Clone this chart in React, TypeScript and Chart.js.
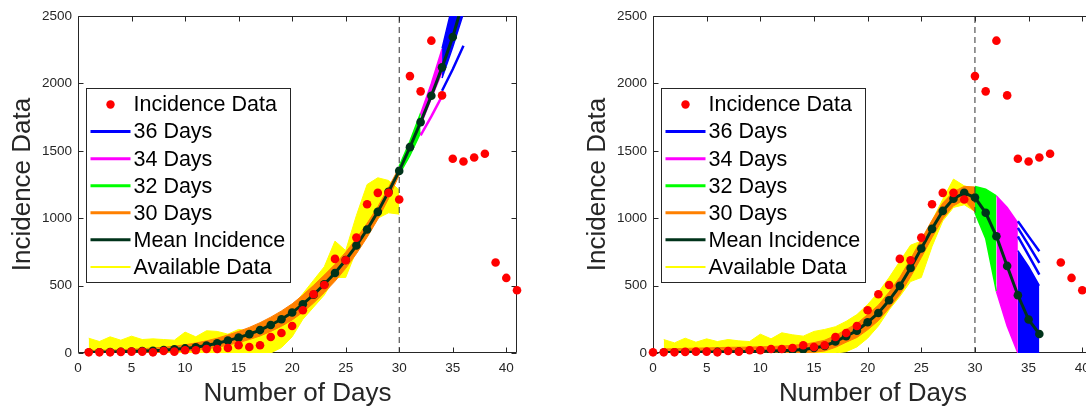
import React, { useEffect, useRef } from "react";
import { Chart, registerables } from "chart.js";
Chart.register(...registerables);

const FONT = "'Liberation Sans', Arial, Helvetica, sans-serif";

// ---- ticks ----
const xTicks = [0, 5, 10, 15, 20, 25, 30, 35, 40];
const yTicks = [0, 500, 1000, 1500, 2000, 2500];

// ---- incidence data (same series, right panel shifted one day earlier) ----
const incidence = [5, 5, 5, 8, 10, 10, 5, 15, 10, 20, 20, 30, 30, 37, 57, 45, 57, 119, 148, 200, 317, 436, 505, 698, 688, 856, 1104, 1188, 1188, 1139, 2054, 1941, 2317, 1911, 1441, 1421, 1450, 1478, 671, 557, 465];
const incidenceStartLeft = 1;
const incidenceStartRight = 0;

// ---- day starts of the fitted pieces ----
const fitStart = 1; // available data, 30 days fit, mean
const greenStart = 30;
const magentaStart = 32;
const blueStart = 34;

// ---- LEFT panel ----
const yellowUpperL = [110, 85, 120, 95, 125, 100, 105, 100, 95, 155, 120, 165, 160, 140, 175, 165, 185, 220, 265, 340, 440, 540, 640, 830, 760, 1020, 1250, 1300, 1280, 1210];
const yellowLowerL = [0, 0, 0, 0, 0, 0, 0, 0, 0, 0, 0, 0, 0, 0, 0, 0, 0, 0, 40, 120, 250, 340, 430, 560, 560, 760, 880, 1000, 1040, 1030];
const orangeUpperL = [18, 20, 22, 25, 28, 32, 37, 43, 51, 61, 74, 90, 110, 134, 160, 190, 225, 266, 312, 365, 430, 502, 578, 658, 748, 850, 962, 1085, 1228, 1378];
const orangeLowerL = [0, 0, 0, 0, 0, 0, 2, 5, 9, 14, 20, 30, 42, 58, 78, 100, 126, 160, 198, 245, 303, 370, 448, 532, 628, 736, 858, 992, 1145, 1320];
const greenUpperL = [1385, 1570, 1780];
const greenLowerL = [1325, 1465, 1635];
const magentaUpperL = [1775, 2000, 2255];
const magentaLowerL = [1690, 1890, 2085];
const magentaExtraL = [[1615, 1755, 1905]];
const blueUpperL = [2260, 2590, 2940];
const blueLowerL = [2040, 2270, 2520];
const blueExtraL = [[1945, 2105, 2280]];
const meanL = [4, 5, 7, 9, 11, 14, 17, 21, 27, 34, 43, 56, 72, 92, 114, 140, 170, 208, 250, 300, 362, 432, 510, 594, 690, 797, 916, 1047, 1195, 1351, 1527, 1713, 1908, 2119, 2344, 2620];

// ---- RIGHT panel ----
const yellowUpperR = [100, 75, 110, 80, 105, 85, 100, 90, 85, 140, 105, 150, 135, 125, 160, 175, 195, 235, 285, 360, 450, 560, 680, 800, 830, 980, 1140, 1290, 1240, 1220];
const yellowLowerR = [20, 15, 20, 15, 18, 15, 14, 12, 10, 10, 8, 5, 0, 0, 0, 0, 0, 10, 45, 110, 200, 320, 420, 530, 560, 790, 980, 1080, 1100, 1050];
const orangeUpperR = [30, 32, 34, 36, 38, 40, 42, 43, 44, 46, 48, 52, 57, 64, 77, 95, 130, 175, 218, 285, 355, 452, 562, 697, 842, 985, 1113, 1196, 1236, 1232];
const orangeLowerR = [0, 0, 0, 0, 0, 0, 0, 0, 0, 0, 0, 0, 0, 0, 5, 15, 42, 80, 115, 172, 240, 332, 435, 565, 708, 856, 995, 1092, 1135, 1045];
const greenUpperR = [1235, 1215, 1165];
const greenLowerR = [1040, 850, 458];
const magentaUpperR = [1165, 1080, 965];
const magentaLowerR = [458, 200, 0];
const magentaExtraR: number[][] = [];
const blueUpperR = [760, 640, 500];
const blueLowerR = [0, 0, 0];
const blueExtraR = [[978, 865, 755], [928, 800, 668], [866, 725, 582]];
const meanR = [3, 4, 5, 6, 7, 8, 9, 10, 11, 12, 14, 17, 21, 26, 37, 52, 85, 125, 165, 228, 297, 391, 498, 631, 775, 921, 1054, 1144, 1188, 1153, 1040, 866, 646, 428, 248, 141];

const forecastDay = 30;

// ---- colours / legend ----
const RED = "#ff0000";
const BLUE = "#0000ff";
const MAGENTA = "#ff00ff";
const GREEN = "#00ff00";
const ORANGE = "#ff8000";
const DARK = "#00331a";
const YELLOW = "#ffff00";

const legendItems = [
  { label: "Incidence Data", kind: "dot", color: RED, width: 0 },
  { label: "36 Days", kind: "line", color: BLUE, width: 3 },
  { label: "34 Days", kind: "line", color: MAGENTA, width: 3 },
  { label: "32 Days", kind: "line", color: GREEN, width: 3 },
  { label: "30 Days", kind: "line", color: ORANGE, width: 3 },
  { label: "Mean Incidence", kind: "line", color: DARK, width: 3 },
  { label: "Available Data", kind: "line", color: YELLOW, width: 2 },
];

const series = (start: number, values: number[]) => values.map((y, i) => ({ x: start + i, y }));

function band(lower: number[], upper: number[], start: number, color: string, idx: number, order: number, bw: number) {
  return [
    { data: series(start, lower), borderColor: color, borderWidth: bw, pointRadius: 0, fill: false, tension: 0, order, clip: 0 },
    { data: series(start, upper), borderColor: color, borderWidth: bw, pointRadius: 0, fill: { target: idx, above: color, below: color }, tension: 0, order: order - 1, clip: 0 },
  ];
}

function makeDatasets(p: any) {
  const ds: any[] = [];
  ds.push(...band(p.yl, p.yu, fitStart, YELLOW, ds.length, 100, 1));
  ds.push(...band(p.ol, p.ou, fitStart, ORANGE, ds.length, 90, 1));
  ds.push(...band(p.gl, p.gu, greenStart, GREEN, ds.length, 80, 1.5));
  ds.push(...band(p.ml, p.mu, magentaStart, MAGENTA, ds.length, 70, 1.5));
  p.mx.forEach((v: number[]) => ds.push({ data: series(magentaStart, v), borderColor: MAGENTA, borderWidth: 2.5, pointRadius: 0, tension: 0, order: 68, clip: 0 }));
  ds.push(...band(p.bl, p.bu, blueStart, BLUE, ds.length, 60, 1.5));
  p.bx.forEach((v: number[]) => ds.push({ data: series(blueStart, v), borderColor: BLUE, borderWidth: 2.5, pointRadius: 0, tension: 0, order: 58, clip: 0 }));
  ds.push({ data: [{ x: forecastDay, y: yTicks[0] }, { x: forecastDay, y: yTicks[yTicks.length - 1] }], borderColor: "#333333", borderWidth: 1, borderDash: [6, 4], pointRadius: 0, order: 50, clip: 0 });
  ds.push({ data: series(fitStart, p.mean), borderColor: DARK, borderWidth: 3, pointRadius: 4.3, pointBackgroundColor: DARK, pointBorderWidth: 0, tension: 0, order: 20, clip: 0 });
  ds.push({ data: series(p.incStart, incidence), showLine: false, pointRadius: 4.3, pointBackgroundColor: RED, pointBorderWidth: 0, order: 10, clip: false });
  return ds;
}

const framePlugin = {
  id: "frame",
  beforeDatasetsDraw(chart: any) {
    const { ctx, chartArea: a, scales } = chart;
    const L = Math.round(a.left) + 0.5, R = Math.round(a.right) - 0.5, T = Math.round(a.top) + 0.5, B = Math.round(a.bottom) - 0.5;
    ctx.save();
    ctx.strokeStyle = "#262626";
    ctx.lineWidth = 1;
    ctx.beginPath();
    ctx.rect(L, T, R - L, B - T);
    const tl = 5;
    xTicks.forEach((v) => {
      const px = Math.round(scales.x.getPixelForValue(v)) + 0.5;
      ctx.moveTo(px, B); ctx.lineTo(px, B - tl);
      ctx.moveTo(px, T); ctx.lineTo(px, T + tl);
    });
    yTicks.forEach((v) => {
      const py = Math.round(scales.y.getPixelForValue(v)) + 0.5;
      ctx.moveTo(L, py); ctx.lineTo(L + tl, py);
      ctx.moveTo(R, py); ctx.lineTo(R - tl, py);
    });
    ctx.stroke();
    ctx.restore();
  },
};

const legendPlugin = {
  id: "boxLegend",
  afterDraw(chart: any) {
    const { ctx, chartArea: a } = chart;
    const bx = Math.round(a.left + 8) + 0.5, by = 88.5, bw = 204, bh = 194;
    ctx.save();
    ctx.fillStyle = "#ffffff";
    ctx.fillRect(bx, by, bw, bh);
    ctx.strokeStyle = "#262626";
    ctx.lineWidth = 1;
    ctx.strokeRect(bx, by, bw, bh);
    ctx.font = `21.5px ${FONT}`;
    ctx.textBaseline = "middle";
    ctx.textAlign = "left";
    legendItems.forEach((it, i) => {
      const cy = by + 16 + i * 27.07;
      if (it.kind === "dot") {
        ctx.fillStyle = it.color;
        ctx.beginPath();
        ctx.arc(bx + 24, cy, 4.2, 0, Math.PI * 2);
        ctx.fill();
      } else {
        ctx.strokeStyle = it.color;
        ctx.lineWidth = it.width;
        ctx.beginPath();
        ctx.moveTo(bx + 4, cy);
        ctx.lineTo(bx + 44, cy);
        ctx.stroke();
      }
      ctx.fillStyle = "#000000";
      ctx.fillText(it.label, bx + 47, cy + 1);
    });
    ctx.restore();
  },
};

function makeConfig(p: any): any {
  return {
    type: "line",
    data: { datasets: makeDatasets(p) },
    options: {
      animation: false,
      responsive: false,
      devicePixelRatio: 1,
      layout: { padding: { left: 0, right: 28, top: 16, bottom: 0 } },
      plugins: { legend: { display: false }, tooltip: { enabled: false } },
      scales: {
        x: {
          type: "linear",
          min: 0,
          max: 41,
          grid: { display: false, drawTicks: false },
          border: { display: false },
          afterBuildTicks: (s: any) => { s.ticks = xTicks.map((v) => ({ value: v })); },
          afterFit: (s: any) => { s.height = 56; },
          ticks: { color: "#262626", font: { family: FONT, size: 13.5 }, padding: 7.5, maxRotation: 0, autoSkip: false, callback: (v: any) => String(v) },
          title: { display: true, text: "Number of Days", color: "#262626", font: { family: FONT, size: 26 }, padding: { top: 0, bottom: 0 } },
        },
        y: {
          type: "linear",
          min: 0,
          max: 2500,
          grid: { display: false, drawTicks: false },
          border: { display: false },
          afterBuildTicks: (s: any) => { s.ticks = yTicks.map((v) => ({ value: v })); },
          afterFit: (s: any) => { s.width = 78; },
          ticks: { color: "#262626", font: { family: FONT, size: 13.5 }, padding: 6, autoSkip: false, callback: (v: any) => String(v) },
          title: { display: true, text: "Incidence Data", color: "#262626", font: { family: FONT, size: 26 }, padding: { top: 7, bottom: 0 } },
        },
      },
    },
    plugins: [framePlugin, legendPlugin],
  };
}

export default function App() {
  const leftRef = useRef<HTMLCanvasElement>(null);
  const rightRef = useRef<HTMLCanvasElement>(null);
  useEffect(() => {
    const c1 = new Chart(leftRef.current as HTMLCanvasElement, makeConfig({
      yl: yellowLowerL, yu: yellowUpperL, ol: orangeLowerL, ou: orangeUpperL,
      gl: greenLowerL, gu: greenUpperL, ml: magentaLowerL, mu: magentaUpperL, mx: magentaExtraL,
      bl: blueLowerL, bu: blueUpperL, bx: blueExtraL, mean: meanL, incStart: incidenceStartLeft,
    }));
    const c2 = new Chart(rightRef.current as HTMLCanvasElement, makeConfig({
      yl: yellowLowerR, yu: yellowUpperR, ol: orangeLowerR, ou: orangeUpperR,
      gl: greenLowerR, gu: greenUpperR, ml: magentaLowerR, mu: magentaUpperR, mx: magentaExtraR,
      bl: blueLowerR, bu: blueUpperR, bx: blueExtraR, mean: meanR, incStart: incidenceStartRight,
    }));
    return () => { c1.destroy(); c2.destroy(); };
  }, []);
  return (
    <div style={{ position: "fixed", left: 0, top: 0, width: 1086, height: 409, overflow: "hidden", background: "#ffffff" }}>
      <canvas ref={leftRef} width={545} height={409} style={{ position: "absolute", left: 0, top: 0 }} />
      <canvas ref={rightRef} width={546} height={409} style={{ position: "absolute", left: 575, top: 0 }} />
    </div>
  );
}
